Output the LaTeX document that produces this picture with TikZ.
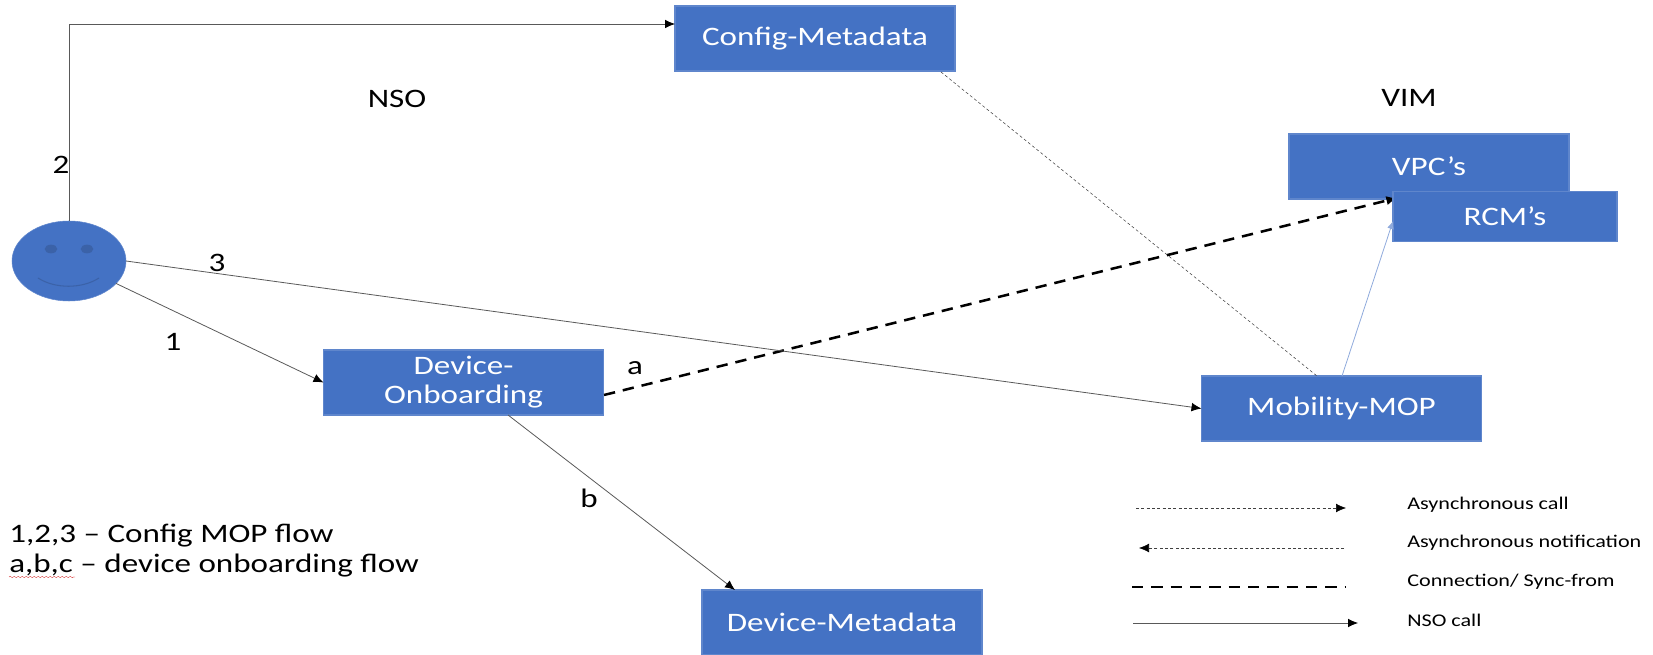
\documentclass[tikz,border=0pt]{standalone}
\usepackage{fontspec}
\setmainfont[FakeStretch=1.24]{Carlito}
\usetikzlibrary{shapes.geometric,arrows.meta,decorations.pathmorphing}
\definecolor{boxblue}{HTML}{4472C4}
\definecolor{boxedge}{HTML}{5F86CC}
\definecolor{facedark}{HTML}{3B62A8}
\definecolor{linkblue}{HTML}{8FAADC}
\tikzset{
  blockbox/.style={rectangle,fill=boxblue,draw=boxedge,thick,text=white,inner sep=0pt,outer sep=0pt,
    minimum width=210pt,minimum height=48.75pt,align=center,font=\fontsize{20}{21.75}\selectfont},
  flowlabel/.style={inner sep=0pt,font=\fontsize{20}{22}\selectfont},
  notelabel/.style={inner sep=0pt,anchor=west,font=\fontsize{20}{22}\selectfont},
  legendlabel/.style={inner sep=0pt,anchor=west,font=\fontsize{13.4}{15}\selectfont},
  nsocall/.style={draw=black!65,line width=0.6pt,-{Latex[black,length=7.5pt,width=6.5pt]}},
  asynccall/.style={draw=black!75,dash pattern=on 2.2pt off 1.8pt,line width=0.4pt,-{Latex[black,length=7.5pt,width=6.5pt]}},
  synccall/.style={draw=black,line width=1.9pt,dash pattern=on 8.5pt off 6pt}
}
\begin{document}
\begin{tikzpicture}[x=0.75pt,y=-0.75pt]
    \useasboundingbox (0,0) rectangle (1653,655);

    \node[ellipse,fill=boxblue,draw=boxedge,inner sep=0pt,outer sep=0pt,minimum width=85.5pt,minimum height=60pt](face) at (69,261){};
    \node[ellipse,fill=facedark,inner sep=0pt,minimum width=9.5pt,minimum height=6.5pt](eyeL) at (51,249){};
    \node[ellipse,fill=facedark,inner sep=0pt,minimum width=9.5pt,minimum height=6.5pt](eyeR) at (87,249){};
    \draw[color=facedark,line width=0.8pt] (38,278) .. controls (55,289) and (82,289) .. (99,278);

    \node[blockbox](config) at (815,38.5){Config-Metadata};
    \node[blockbox](vpc) at (1429,166.5){VPC’s};
    \node[blockbox](mobility) at (1341.5,408.5){Mobility-MOP};
    \node[blockbox](onboard) at (463.5,382.5){Device-\\Onboarding};
    \node[blockbox](devmeta) at (842,622.5){Device-Metadata};

    % free ends that sit away from an anchor
    \coordinate(top2) at (675,24);
    \coordinate(syncstart) at (604,395);
    \coordinate(syncend) at (1397,198);
    \coordinate(asyncstart) at (941,72);
    \coordinate(asyncend) at (1317,376);
    \coordinate(linkstart) at (1342,376);
    \coordinate(linkend) at (1393,221);
    \coordinate(bstart) at (508,415);
    \coordinate(bend) at (735,590);

    \draw[synccall,-{Latex[length=8pt,width=7pt]}] (syncstart) -- (syncend);

    \node[blockbox,minimum width=168pt,minimum height=38pt](rcm) at (1505,216.5){RCM’s};

    \draw[nsocall] (face.north) |- (top2);
    \draw[nsocall] (face.east) -- (mobility.west);
    \draw[nsocall] (face) -- (onboard.west);
    \draw[nsocall] (bstart) -- (bend);
    \draw[color=black!75,dash pattern=on 2.2pt off 1.8pt,line width=0.4pt] (asyncstart) -- (asyncend);
    \draw[color=linkblue,line width=0.6pt,-{Latex[length=6pt,width=5pt]}] (linkstart) -- (linkend);

    \node[flowlabel](nso) at (397,99){NSO};
    \node[flowlabel](vim) at (1409,98){VIM};
    \node[flowlabel](two) at (61,165){2};
    \node[flowlabel](three) at (217,263){3};
    \node[flowlabel](one) at (173,342){1};
    \node[flowlabel](a) at (635,368){a};
    \node[flowlabel](b) at (589,498){b};

    \node[notelabel](flow1) at (9,536){1,2,3 – Config MOP flow};
    \node[notelabel](flow2) at (9,566){a,b,c – device onboarding flow};
    \draw[color=red!80!black,very thin,decorate,decoration={snake,amplitude=0.5pt,segment length=3pt}] (9,577) -- (75,577);

    \coordinate(l1a) at (1136,508);
    \coordinate(l1b) at (1346,508);
    \coordinate(l2a) at (1344,548);
    \coordinate(l2b) at (1139,548);
    \coordinate(l3a) at (1132,587);
    \coordinate(l3b) at (1346,587);
    \coordinate(l4a) at (1133,623);
    \coordinate(l4b) at (1358,623);

    \draw[asynccall] (l1a) -- (l1b);
    \draw[asynccall] (l2a) -- (l2b);
    \draw[synccall] (l3a) -- (l3b);
    \draw[nsocall] (l4a) -- (l4b);

    \node[legendlabel](leg1) at (1407,505){Asynchronous call};
    \node[legendlabel](leg2) at (1407,543){Asynchronous notification};
    \node[legendlabel](leg3) at (1407,582){Connection/ Sync-from};
    \node[legendlabel](leg4) at (1407,620){NSO call};

  \end{tikzpicture}
\end{document}
